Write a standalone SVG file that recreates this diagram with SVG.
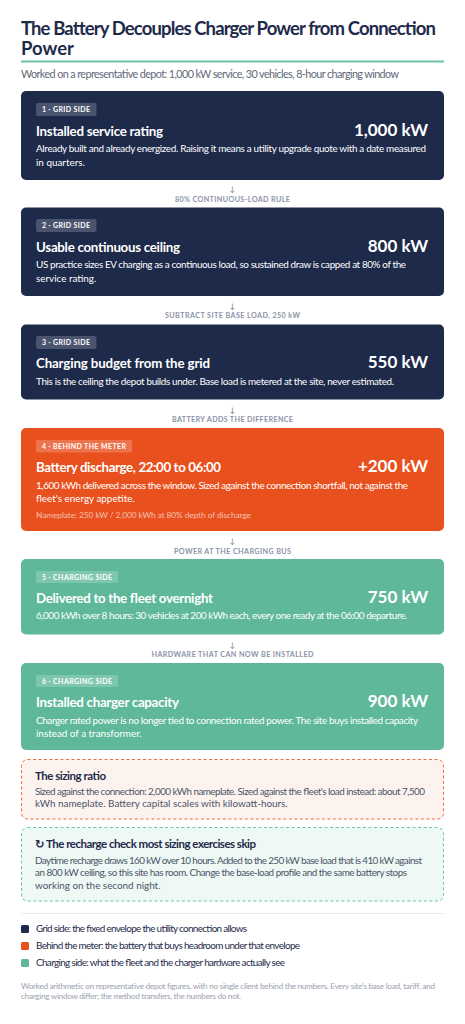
<svg xmlns="http://www.w3.org/2000/svg" width="465" height="1024" viewBox="0 0 465 1024">
<style>
text{font-family:Lato,"Liberation Sans","DejaVu Sans",sans-serif}
.h1{font-size:18.5px;font-weight:700;fill:#1e2a4a}
.sub{font-size:10.8px;fill:#5f6878}
.badge{font-size:7px;font-weight:700;fill:#fff}
.bt{font-size:13.3px;font-weight:700;fill:#fff}
.bv{font-size:17px;font-weight:700;fill:#fff;text-anchor:end}
.bd{font-size:9.9px;fill:#fff}
.bd2{font-size:8.3px;fill:#fff;fill-opacity:0.65}
.cl{font-size:7.2px;font-weight:700;fill:#8a93a6;text-anchor:middle}
.ca{font-size:9px;fill:#8a93a6;text-anchor:middle;font-family:"DejaVu Sans",sans-serif}
.nt{font-size:11.5px;font-weight:700;fill:#1e2a4a}
.nd{font-size:9.9px;fill:#4a5468}
.lg{font-size:9.9px;fill:#1e2a4a}
.ft{font-size:8.2px;fill:#9aa1b0}
.navy{fill:#1e2a4a}
.orange{fill:#e8501e}
.green{fill:#5fb89a}
.pill{fill:#fff;fill-opacity:0.2}
</style>
<rect width="465" height="1024" fill="#fff"/>
<g id="header">
<text class="h1" x="21" y="35" textLength="415">The Battery Decouples Charger Power from Connection</text>
<text class="h1" x="21" y="55">Power</text>
<rect x="21" y="60.5" width="423" height="2" fill="#6cc4a4"/>
<text class="sub" x="21" y="78" textLength="378">Worked on a representative depot: 1,000 kW service, 30 vehicles, 8-hour charging window</text>
</g>
<g id="connectors">
<text class="ca" x="232.5" y="193">↓</text>
<text class="cl" x="232.5" y="202" textLength="115">80% CONTINUOUS-LOAD RULE</text>
<text class="ca" x="232.5" y="310">↓</text>
<text class="cl" x="232.5" y="318" textLength="135">SUBTRACT SITE BASE LOAD, 250 kW</text>
<text class="ca" x="232.5" y="414">↓</text>
<text class="cl" x="232.5" y="422" textLength="121">BATTERY ADDS THE DIFFERENCE</text>
<text class="ca" x="232.5" y="545">↓</text>
<text class="cl" x="232.5" y="553.5" textLength="117">POWER AT THE CHARGING BUS</text>
<text class="ca" x="232.5" y="649">↓</text>
<text class="cl" x="232.5" y="657" textLength="162">HARDWARE THAT CAN NOW BE INSTALLED</text>
</g>
<g id="node1">
<rect class="navy" x="21" y="91" width="423" height="89" rx="5"/>
<rect class="pill" x="36" y="103" width="60.5" height="13" rx="2"/>
<text class="badge" x="42" y="112.3" textLength="48">1 · GRID SIDE</text>
<text class="bt" x="36" y="136" textLength="127">Installed service rating</text>
<text class="bv" x="428" y="136">1,000 kW</text>
<text class="bd" x="36" y="152" textLength="390">Already built and already energized. Raising it means a utility upgrade quote with a date measured</text>
<text class="bd" x="36" y="165.5">in quarters.</text>
</g>
<g id="node2">
<rect class="navy" x="21" y="207.5" width="423" height="88.5" rx="5"/>
<rect class="pill" x="36" y="219" width="60.5" height="13" rx="2"/>
<text class="badge" x="42" y="228.3" textLength="48">2 · GRID SIDE</text>
<text class="bt" x="36" y="252" textLength="144">Usable continuous ceiling</text>
<text class="bv" x="428" y="252">800 kW</text>
<text class="bd" x="36" y="268" textLength="370">US practice sizes EV charging as a continuous load, so sustained draw is capped at 80% of the</text>
<text class="bd" x="36" y="281.5">service rating.</text>
</g>
<g id="node3">
<rect class="navy" x="21" y="324.5" width="423" height="75" rx="5"/>
<rect class="pill" x="36" y="336" width="60.5" height="13" rx="2"/>
<text class="badge" x="42" y="345.3" textLength="48">3 · GRID SIDE</text>
<text class="bt" x="36" y="368" textLength="174">Charging budget from the grid</text>
<text class="bv" x="428" y="368">550 kW</text>
<text class="bd" x="36" y="384.5" textLength="358">This is the ceiling the depot builds under. Base load is metered at the site, never estimated.</text>
</g>
<g id="node4">
<rect class="orange" x="21" y="428" width="423" height="103" rx="5"/>
<rect class="pill" x="36" y="440" width="96" height="12.5" rx="2"/>
<text class="badge" x="42" y="449.2" textLength="84">4 · BEHIND THE METER</text>
<text class="bt" x="36" y="472" textLength="185">Battery discharge, 22:00 to 06:00</text>
<text class="bv" x="428" y="472">+200 kW</text>
<text class="bd" x="36" y="488.5" textLength="372">1,600 kWh delivered across the window. Sized against the connection shortfall, not against the</text>
<text class="bd" x="36" y="502">fleet's energy appetite.</text>
<text class="bd2" x="36" y="518" textLength="215">Nameplate: 250 kW / 2,000 kWh at 80% depth of discharge</text>
</g>
<g id="node5">
<rect class="green" x="21" y="559" width="423" height="75.5" rx="5"/>
<rect class="pill" x="36" y="571" width="82" height="12" rx="2"/>
<text class="badge" x="42" y="579.8" textLength="70">5 · CHARGING SIDE</text>
<text class="bt" x="36" y="602.5" textLength="177">Delivered to the fleet overnight</text>
<text class="bv" x="428" y="602.5">750 kW</text>
<text class="bd" x="36" y="619" textLength="371">6,000 kWh over 8 hours: 30 vehicles at 200 kWh each, every one ready at the 06:00 departure.</text>
</g>
<g id="node6">
<rect class="green" x="21" y="663" width="423" height="87" rx="5"/>
<rect class="pill" x="36" y="675" width="82" height="12" rx="2"/>
<text class="badge" x="42" y="683.8" textLength="70">6 · CHARGING SIDE</text>
<text class="bt" x="36" y="706.5" textLength="143">Installed charger capacity</text>
<text class="bv" x="428" y="706.5">900 kW</text>
<text class="bd" x="36" y="723.5" textLength="382">Charger rated power is no longer tied to connection rated power. The site buys installed capacity</text>
<text class="bd" x="36" y="736.5">instead of a transformer.</text>
</g>
<g id="note-sizing">
<rect x="21.5" y="759.5" width="422" height="59.5" rx="6" fill="#fdf3ee" stroke="#ef6a40" stroke-width="1" stroke-dasharray="3,2.5"/>
<text class="nt" x="35" y="779.5" textLength="71">The sizing ratio</text>
<text class="nd" x="35" y="794.5" textLength="390">Sized against the connection: 2,000 kWh nameplate. Sized against the fleet's load instead: about 7,500</text>
<text class="nd" x="35" y="807">kWh nameplate. Battery capital scales with kilowatt-hours.</text>
</g>
<g id="note-recharge">
<rect x="21.5" y="827.5" width="422" height="73.5" rx="6" fill="#eef8f4" stroke="#6cc4a4" stroke-width="1" stroke-dasharray="3,2.5"/>
<text class="nt" x="35" y="847.5" textLength="221">↻ The recharge check most sizing exercises skip</text>
<text class="nd" x="35" y="863.5" textLength="387">Daytime recharge draws 160 kW over 10 hours. Added to the 250 kW base load that is 410 kW against</text>
<text class="nd" x="35" y="876" textLength="372">an 800 kW ceiling, so this site has room. Change the base-load profile and the same battery stops</text>
<text class="nd" x="35" y="888.5">working on the second night.</text>
</g>
<line x1="21" y1="913.5" x2="444" y2="913.5" stroke="#e8eaef" stroke-width="1"/>
<g id="legend">
<rect class="navy" x="21" y="925" width="8" height="8" rx="1.5"/>
<text class="lg" x="36" y="932.3" textLength="211">Grid side: the fixed envelope the utility connection allows</text>
<rect class="orange" x="21" y="942" width="8" height="8" rx="1.5"/>
<text class="lg" x="36" y="949.3" textLength="264">Behind the meter: the battery that buys headroom under that envelope</text>
<rect class="green" x="21" y="959" width="8" height="8" rx="1.5"/>
<text class="lg" x="36" y="966.3" textLength="249">Charging side: what the fleet and the charger hardware actually see</text>
</g>
<g id="footer">
<text class="ft" x="21" y="988.5" textLength="414">Worked arithmetic on representative depot figures, with no single client behind the numbers. Every site's base load, tariff, and</text>
<text class="ft" x="21" y="999" textLength="220">charging window differ; the method transfers, the numbers do not.</text>
</g>
</svg>
